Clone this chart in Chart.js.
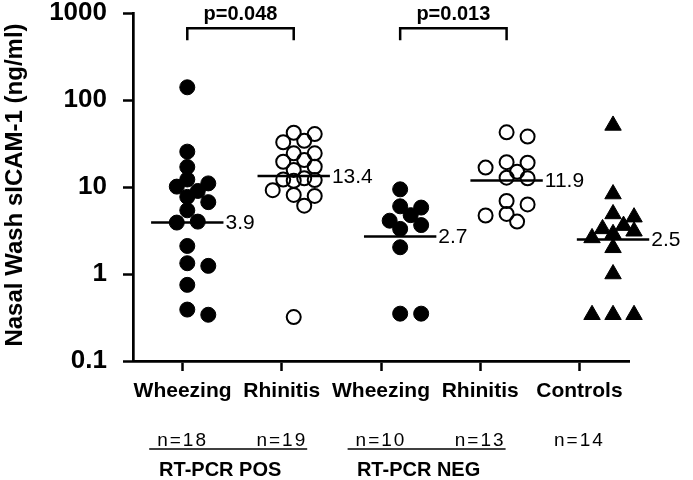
<!DOCTYPE html>
<html><head><meta charset="utf-8">
<script src="https://cdn.jsdelivr.net/npm/chart.js@4/dist/chart.umd.min.js"></script>
<style>html,body{margin:0;padding:0;background:#fff}#wrap{width:693px;height:480px}</style>
</head><body><div id="wrap"><canvas id="c" width="693" height="480"></canvas></div>
<script>
const categories = ['Wheezing', 'Rhinitis', 'Wheezing', 'Rhinitis', 'Controls'];
const groupCounts = ['n=18', 'n=19', 'n=10', 'n=13', 'n=14'];
const pcrGroups = [{ label: 'RT-PCR POS', from: 0, to: 1 }, { label: 'RT-PCR NEG', from: 2, to: 3 }];
const wheezingPos = [140, 25.5, 17, 12.2, 9.0, 6.7, 10.1, 11, 7.7, 5.4, 4.0, 3.9, 2.1, 1.24, 1.33, 0.75, 0.34, 0.39];
const rhinitisPos = [42, 34, 40.6, 32.7, 24.4, 24.4, 20.4, 19.5, 17.1, 15.7, 12.2, 11.8, 12.0, 12.6, 9.2, 7.9, 8.1, 6.1, 0.32];
const wheezingNeg = [9.4, 5.8, 6.0, 4.75, 4.1, 3.3, 3.65, 2.03, 0.35, 0.35];
const rhinitisNeg = [38, 42.5, 16.7, 19, 19.3, 15, 12.8, 12.6, 6.9, 6.3, 4.9, 4.0, 4.7];
const controls = [51, 8.3, 4.9, 4.5, 3.6, 3.1, 3.3, 2.9, 2.6, 2.0, 1.0, 0.34, 0.34, 0.34];
const medians = [3.9, 13.4, 2.7, 11.9, 2.5];
const yTicks = [0.1, 1, 10, 100, 1000];
const pValues = [{ text: 'p=0.048', from: 1, to: 2 }, { text: 'p=0.013', from: 3, to: 4 }];

const groups = [wheezingPos, rhinitisPos, wheezingNeg, rhinitisNeg, controls];
const FONT = "'Liberation Sans', Arial, sans-serif";
Chart.defaults.font.family = FONT;
Chart.defaults.color = '#000';

const markerStyles = [
  { pointStyle: 'circle', pointRadius: 7.5, backgroundColor: '#000', borderColor: '#000', borderWidth: 1 },
  { pointStyle: 'circle', pointRadius: 7, backgroundColor: 'rgba(0,0,0,0)', borderColor: '#000', borderWidth: 2 },
  { pointStyle: 'circle', pointRadius: 7.5, backgroundColor: '#000', borderColor: '#000', borderWidth: 1 },
  { pointStyle: 'circle', pointRadius: 7, backgroundColor: 'rgba(0,0,0,0)', borderColor: '#000', borderWidth: 2 },
  { pointStyle: 'triangle', pointRadius: 9.5, backgroundColor: '#000', borderColor: '#000', borderWidth: 1 }
];

const datasets = [];
groups.forEach((vals, gi) => {
  datasets.push(Object.assign({
    type: 'scatter', xAxisID: 'xd', yAxisID: 'y', clip: false,
    data: vals.map(v => ({ x: gi + 1, y: v })),
    pointHoverRadius: 7
  }, markerStyles[gi]));
});
const HALF = 0.34;
medians.forEach((m, gi) => {
  datasets.push({
    type: 'line', xAxisID: 'xd', yAxisID: 'y', isMedian: true, medianText: String(m), clip: false,
    data: [{ x: gi + 1 - HALF, y: m }, { x: gi + 1 + HALF, y: m }],
    borderColor: '#000', borderWidth: 2.5, pointRadius: 0, showLine: true, fill: false
  });
});

const annot = {
  id: 'annot',
  afterDatasetsDraw(chart) {
    const ctx = chart.ctx, xd = chart.scales.xd, xs = chart.scales.x, ys = chart.scales.y;
    ctx.save();
    ctx.fillStyle = '#000'; ctx.strokeStyle = '#000';
    // median labels
    ctx.font = '21px ' + FONT; ctx.textAlign = 'left'; ctx.textBaseline = 'middle';
    chart.data.datasets.forEach((ds, i) => {
      if (!ds.isMedian) return;
      const pt = chart.getDatasetMeta(i).data[1];
      ctx.fillText(ds.medianText, pt.x + 2, pt.y + 1);
    });
    // p-value brackets
    ctx.lineWidth = 2.5;
    const yTop = ys.getPixelForValue(667), yLeg = ys.getPixelForValue(486);
    pValues.forEach(p => {
      const x1 = xd.getPixelForValue(p.from), x2 = xd.getPixelForValue(p.to);
      ctx.beginPath();
      ctx.moveTo(x1, yLeg); ctx.lineTo(x1, yTop); ctx.lineTo(x2, yTop); ctx.lineTo(x2, yLeg);
      ctx.stroke();
      ctx.font = 'bold 20px ' + FONT; ctx.textAlign = 'center'; ctx.textBaseline = 'middle';
      ctx.fillText(p.text, (x1 + x2) / 2, yTop - 14);
    });
    // n labels
    ctx.font = '19px ' + FONT; ctx.textAlign = 'center'; ctx.textBaseline = 'middle';
    if ('letterSpacing' in ctx) ctx.letterSpacing = '2px';
    const nY = 441;
    const nBoxes = groupCounts.map((t, i) => {
      const x = xs.getPixelForTick(i);
      const w = ctx.measureText(t).width;
      ctx.fillText(t, x, nY);
      return { l: x - w / 2, r: x + w / 2, c: x };
    });
    if ('letterSpacing' in ctx) ctx.letterSpacing = '0px';
    ctx.lineWidth = 1.5;
    pcrGroups.forEach(g => {
      const l = nBoxes[g.from].l - 8, r = nBoxes[g.to].r;
      ctx.beginPath(); ctx.moveTo(l, nY + 8); ctx.lineTo(r, nY + 8); ctx.stroke();
      ctx.font = 'bold 20px ' + FONT;
      ctx.fillText(g.label, (l + r) / 2 - 8, 470);
    });
    // y title
    ctx.save();
    ctx.translate(15, 185); ctx.rotate(-Math.PI / 2);
    ctx.font = 'bold 24px ' + FONT; ctx.textAlign = 'center'; ctx.textBaseline = 'middle';
    ctx.fillText('Nasal Wash sICAM-1 (ng/ml)', 0, 0);
    ctx.restore();
    ctx.restore();
  }
};

const chart = new Chart(document.getElementById('c'), {
  type: 'scatter',
  data: { datasets },
  options: {
    responsive: false, animation: false, devicePixelRatio: 1,
    layout: { padding: { top: 13, right: 64, left: 0, bottom: 0 } },
    plugins: { legend: { display: false }, tooltip: { enabled: false } },
    scales: {
      x: {
        type: 'category', labels: categories, offset: true, position: 'bottom',
        grid: { display: true, drawOnChartArea: false, drawTicks: true, tickLength: 10, tickColor: '#000', tickWidth: 2.5, offset: false },
        border: { display: true, color: '#000', width: 2.7 },
        ticks: { font: { size: 21, weight: 'bold' }, color: '#000', padding: 8, maxRotation: 0, autoSkip: false },
        afterFit(s) { s.height = 119; s.paddingLeft = 0; s.paddingRight = 0; }
      },
      xd: { type: 'linear', display: false, min: 0.49, max: 5.15 },
      y: {
        type: 'logarithmic', min: 0.1, max: 1000, position: 'left',
        afterBuildTicks(s) { s.ticks = yTicks.map(v => ({ value: v })); },
        grid: { display: true, drawOnChartArea: false, drawTicks: true, tickLength: 10, tickColor: '#000', tickWidth: 2.5 },
        border: { display: true, color: '#000', width: 2.7 },
        ticks: { font: { size: 26, weight: 'bold' }, color: '#000', padding: 16, callback: v => String(v) },
        afterFit(s) { s.width = 133; s.paddingTop = 0; s.paddingBottom = 0; }
      }
    }
  },
  plugins: [annot]
});

// bounded beeswarm placement of points using the chart's own scales
(function swarm() {
  const ys = chart.scales.y, xs = chart.scales.xd;
  const ppu = xs.getPixelForValue(1) - xs.getPixelForValue(0);
  const STEP = 10.5, MIN = 12, MAXK = 4;
  groups.forEach((vals, gi) => {
    const order = vals.map((v, i) => i).sort((a, b) => vals[b] - vals[a]);
    const placed = [];
    const out = new Array(vals.length);
    order.forEach(i => {
      const py = ys.getPixelForValue(vals[i]);
      let best = 0, bestD = -1, found = false;
      for (let k = 0; k <= MAXK; k++) {
        const cand = k === 0 ? 0 : (k % 2 ? 1 : -1) * Math.ceil(k / 2) * STEP;
        const d = placed.length ? Math.min(...placed.map(p => Math.hypot(p.dx - cand, p.py - py))) : Infinity;
        if (d >= MIN) { best = cand; found = true; break; }
        if (d > bestD) { bestD = d; best = cand; }
      }
      placed.push({ dx: best, py });
      out[i] = { x: gi + 1 + best / ppu, y: vals[i] };
    });
    chart.data.datasets[gi].data = out;
  });
  chart.update('none');
})();
</script></body></html>
